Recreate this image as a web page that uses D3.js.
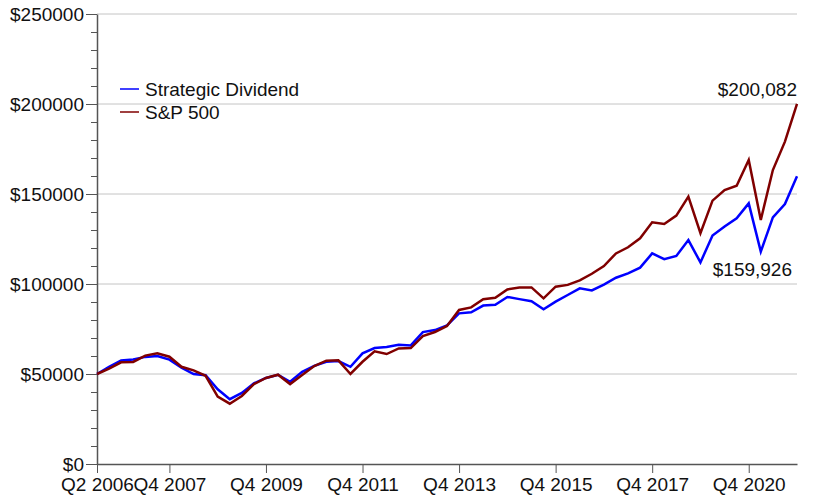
<!DOCTYPE html>
<html>
<head>
<meta charset="utf-8">
<script src="https://cdn.jsdelivr.net/npm/d3@7"></script>
<style>
  body { margin: 0; background: #fff; }
  text { font-family: "Liberation Sans", Arial, sans-serif; }
</style>
</head>
<body>
<div id="chart"></div>
<script>
// quarterly values, Q2 2006 .. Q4 2020 (59 points)
var dividend = [50000, 54000, 57500, 58100, 59500, 60000, 58000, 53500, 50000, 49300,
  41500, 36000, 39500, 44800, 47800, 49600, 45700, 51200, 54500, 56800,
  57200, 54000, 61500, 64400, 65000, 66300, 65900, 73300, 74400, 77000,
  83700, 84300, 88000, 88500, 92800, 91600, 90400, 86000, 90200, 93900,
  97600, 96400, 99700, 103500, 105900, 109100, 117000, 113800, 115600, 124400,
  112000, 126900, 131900, 136500, 144800, 118000, 137000, 144400, 159926];

var sp500 = [50000, 53000, 56500, 56700, 60200, 61500, 59600, 54000, 52000, 49000,
  37400, 33500, 37800, 44400, 47800, 49600, 44400, 49400, 54400, 57400,
  57600, 50000, 56800, 62600, 61100, 64200, 64400, 71100, 73300, 76700,
  85600, 87000, 91500, 92400, 97000, 98100, 98100, 92000, 98500, 99500,
  102000, 105700, 110000, 117000, 120400, 125400, 134300, 133300, 138000, 148500,
  128200, 146300, 152200, 154600, 168900, 135600, 163300, 179100, 200082];

var tickIndex = [0, 6, 14, 22, 30, 38, 46, 54];
var tickLabels = ["Q2 2006", "Q4 2007", "Q4 2009", "Q4 2011", "Q4 2013", "Q4 2015", "Q4 2017", "Q4 2020"];
var seriesNames = ["Strategic Dividend", "S&P 500"];
var colors = ["#0000ff", "#800000"];

var width = 814, height = 495;
var margin = {top: 14, right: 17, bottom: 31, left: 97};
var fontSize = "19px";

var svg = d3.select("#chart")
  .append("svg")
    .attr("width", width)
    .attr("height", height);

var x = d3.scaleLinear()
    .domain([0, dividend.length - 1])
    .range([margin.left, width - margin.right]);

var y = d3.scaleLinear()
    .domain([0, 250000])
    .range([height - margin.bottom, margin.top]);

// grid
svg.append("g")
  .selectAll("line")
  .data(d3.range(50000, 250001, 50000))
  .enter()
  .append("line")
    .attr("x1", x(0))
    .attr("x2", x(dividend.length - 1))
    .attr("y1", function(d) { return y(d); })
    .attr("y2", function(d) { return y(d); })
    .attr("stroke", "#c4c4c4")
    .attr("stroke-width", 1);

// minor y ticks
svg.append("g")
  .attr("transform", "translate(" + margin.left + ",0)")
  .call(d3.axisLeft(y).tickValues(d3.range(0, 250001, 10000)).tickSize(6).tickSizeOuter(0).tickFormat(""))
  .call(function(g) { g.select(".domain").remove(); })
  .selectAll("line").attr("stroke", "#555");

// y axis
var yAxis = svg.append("g")
  .attr("transform", "translate(" + margin.left + ",0)")
  .call(d3.axisLeft(y).tickValues(d3.range(0, 250001, 50000)).tickSize(11).tickSizeOuter(0).tickPadding(2)
    .tickFormat(function(d) { return "$" + d; }));
yAxis.select(".domain").attr("stroke", "#555").attr("stroke-width", 1.5);
yAxis.selectAll("line").attr("stroke", "#555");
yAxis.selectAll("text").style("font-size", fontSize).attr("fill", "#111");

// x axis
var xAxis = svg.append("g")
  .attr("transform", "translate(0," + (height - margin.bottom) + ")")
  .call(d3.axisBottom(x).tickValues(tickIndex).tickSize(9).tickSizeOuter(0).tickPadding(5)
    .tickFormat(function(d, i) { return tickLabels[i]; }));
xAxis.select(".domain").attr("stroke", "#555").attr("stroke-width", 1.5);
xAxis.selectAll("line").attr("stroke", "#555");
xAxis.selectAll("text").style("font-size", fontSize).attr("fill", "#111");

// lines
var line = d3.line()
  .x(function(d, i) { return x(i); })
  .y(function(d) { return y(d); });

[dividend, sp500].forEach(function(s, k) {
  svg.append("path")
    .datum(s)
    .attr("fill", "none")
    .attr("stroke", colors[k])
    .attr("stroke-width", 2.5)
    .attr("stroke-linejoin", "miter")
    .attr("d", line);
});

// legend
var legend = svg.append("g");
seriesNames.forEach(function(name, k) {
  var ly = 89 + k * 23;
  legend.append("line")
    .attr("x1", 120).attr("x2", 139)
    .attr("y1", ly).attr("y2", ly)
    .attr("stroke", colors[k])
    .attr("stroke-width", 1.5);
  legend.append("text")
    .attr("x", 145).attr("y", ly + 7)
    .style("font-size", fontSize)
    .attr("fill", "#111")
    .text(name);
});

// end value labels
var last = dividend.length - 1;
svg.append("text")
  .attr("x", x(last)).attr("y", y(sp500[last]) - 8)
  .attr("text-anchor", "end")
  .style("font-size", fontSize)
  .attr("fill", "#111")
  .text("$" + d3.format(",")(sp500[last]));
svg.append("text")
  .attr("x", x(last) - 5).attr("y", y(dividend[last]) + 100)
  .attr("text-anchor", "end")
  .style("font-size", fontSize)
  .attr("fill", "#111")
  .text("$" + d3.format(",")(dividend[last]));
</script>
</body>
</html>
